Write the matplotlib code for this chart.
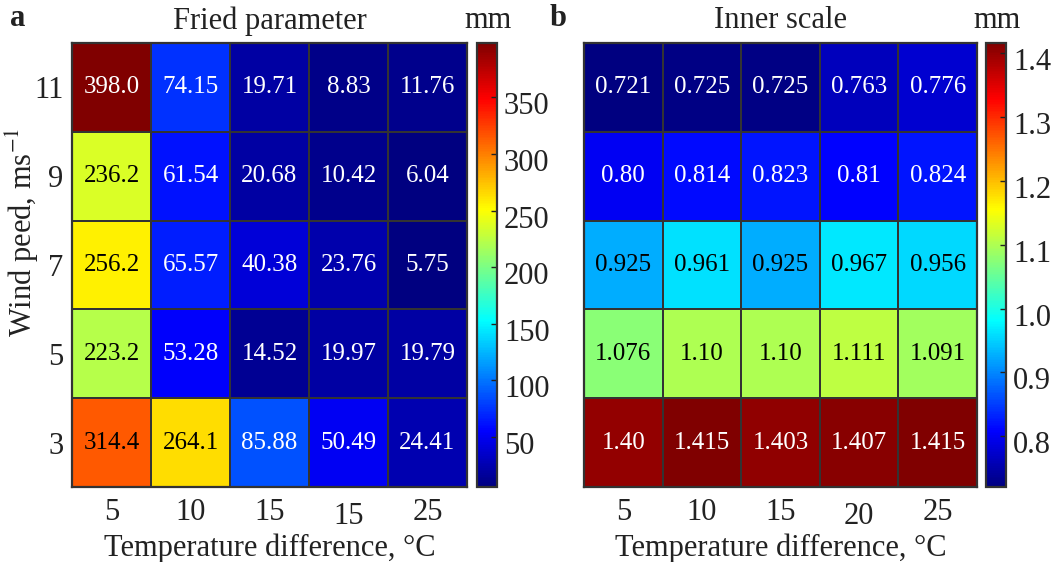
import numpy as np
import matplotlib
matplotlib.use("Agg")
import matplotlib.pyplot as plt
from matplotlib import colors
from matplotlib.transforms import ScaledTranslation

plt.rcParams['font.family'] = ['Liberation Serif', 'DejaVu Serif']
plt.rcParams['mathtext.fontset'] = 'stix'

# wind speed rows (top to bottom) and temperature difference columns
wind_speed = ['11', '9', '7', '5', '3']
temp_diff_a = ['5', '10', '15', '15', '25']
temp_diff_b = ['5', '10', '15', '20', '25']

# Fried parameter, mm
fried_labels = [
    ['398.0', '74.15', '19.71', '8.83', '11.76'],
    ['236.2', '61.54', '20.68', '10.42', '6.04'],
    ['256.2', '65.57', '40.38', '23.76', '5.75'],
    ['223.2', '53.28', '14.52', '19.97', '19.79'],
    ['314.4', '264.1', '85.88', '50.49', '24.41'],
]
fried_ticks = [50, 100, 150, 200, 250, 300, 350]

# inner scale, mm
inner_labels = [
    ['0.721', '0.725', '0.725', '0.763', '0.776'],
    ['0.80', '0.814', '0.823', '0.81', '0.824'],
    ['0.925', '0.961', '0.925', '0.967', '0.956'],
    ['1.076', '1.10', '1.10', '1.111', '1.091'],
    ['1.40', '1.415', '1.403', '1.407', '1.415'],
]
inner_ticks = [0.8, 0.9, 1.0, 1.1, 1.2, 1.3, 1.4]

W, H = 1057, 562
EDGE = '#333333'
INK = '#222222'
FS = 22

# MATLAB-style jet
jet = colors.LinearSegmentedColormap('mjet', {
    'red':   [(0, 0, 0), (3 / 8, 0, 0), (5 / 8, 1, 1), (7 / 8, 1, 1), (1, 0.5, 0.5)],
    'green': [(0, 0, 0), (1 / 8, 0, 0), (3 / 8, 1, 1), (5 / 8, 1, 1), (7 / 8, 0, 0), (1, 0, 0)],
    'blue':  [(0, 0.5, 0.5), (1 / 8, 1, 1), (3 / 8, 1, 1), (5 / 8, 0, 0), (1, 0, 0)],
}, N=256)


def px_box(left, top, right, bottom):
    return [left / W, 1 - bottom / H, (right - left) / W, (bottom - top) / H]


def shift(fig, dy_px):
    return ScaledTranslation(0, -dy_px / 100, fig.dpi_scale_trans)


def heatmap(fig, ax, cax, labels, xlabels, ticks, tick_fmt, show_y):
    vals = np.array([[float(s) for s in row] for row in labels])
    norm = colors.Normalize(vmin=vals.min(), vmax=vals.max())
    nr, nc = vals.shape
    mesh = ax.pcolormesh(np.arange(nc + 1), np.arange(nr + 1), vals[::-1],
                         cmap=jet, norm=norm, edgecolor=EDGE, linewidth=1.3)
    for i in range(nr):
        for j in range(nc):
            r, g, b, _ = jet(norm(vals[i, j]))
            lum = 0.2126 * r + 0.7152 * g + 0.0722 * b
            ax.text(j + 0.5, nr - i - 0.5, labels[i][j], ha='center', va='center',
                    fontsize=18, color='black' if lum > 0.45 else 'white')
    ax.set_xlim(0, nc)
    ax.set_ylim(0, nr)
    ax.set_xticks(np.arange(nc) + 0.5)
    ax.set_xticklabels(xlabels)
    ax.set_yticks(np.arange(nr) + 0.5)
    ax.set_yticklabels(wind_speed[::-1] if show_y else [])
    ax.tick_params(axis='y', length=0, labelsize=FS, pad=6, colors=INK)
    ax.tick_params(axis='x', length=0, labelsize=FS, pad=8, colors=INK)
    # fourth column label sits a little lower
    lab = ax.get_xticklabels()[3]
    lab.set_transform(lab.get_transform() + shift(fig, 4))
    for sp in ax.spines.values():
        sp.set_color(EDGE)
        sp.set_linewidth(1.6)
    ax.set_xlabel('Temperature difference, °C', fontsize=FS, color=INK, labelpad=2)

    cb = fig.colorbar(mesh, cax=cax)
    cb.set_ticks(ticks)
    cb.set_ticklabels([tick_fmt.format(t) for t in ticks])
    cb.outline.set_edgecolor(EDGE)
    cb.outline.set_linewidth(1.6)
    cax.tick_params(direction='in', length=4, width=1, color=INK,
                    labelsize=FS, pad=5, labelcolor=INK)
    for lab in cax.get_yticklabels():
        lab.set_transform(lab.get_transform() + shift(fig, 6))


fig = plt.figure(figsize=(W / 100, H / 100), dpi=100)

ax_a = fig.add_axes(px_box(72, 43, 467, 487))
cax_a = fig.add_axes(px_box(477, 43, 497, 487))
ax_b = fig.add_axes(px_box(584, 43, 977, 487))
cax_b = fig.add_axes(px_box(986, 43, 1006, 487))

heatmap(fig, ax_a, cax_a, fried_labels, temp_diff_a, fried_ticks, '{:d}', True)
heatmap(fig, ax_b, cax_b, inner_labels, temp_diff_b, inner_ticks, '{:.1f}', False)

fig.text(22 / W, 1 - 232 / H, r'Wind peed, ms$^{-1}$', rotation=90, ha='center',
         va='center', fontsize=FS, color=INK)

fig.text(270 / W, 1 - 21 / H, 'Fried parameter', ha='center', va='center',
         fontsize=FS, color=INK)
fig.text(780 / W, 1 - 21 / H, 'Inner scale', ha='center', va='center',
         fontsize=FS, color=INK)
fig.text(488 / W, 1 - 21 / H, 'mm', ha='center', va='center', fontsize=FS, color=INK)
fig.text(997 / W, 1 - 21 / H, 'mm', ha='center', va='center', fontsize=FS, color=INK)
fig.text(18 / W, 1 - 19 / H, 'a', ha='center', va='center', fontsize=FS,
         fontweight='bold', color=INK)
fig.text(558 / W, 1 - 19 / H, 'b', ha='center', va='center', fontsize=FS,
         fontweight='bold', color=INK)

fig.savefig('out.png', dpi=100)
